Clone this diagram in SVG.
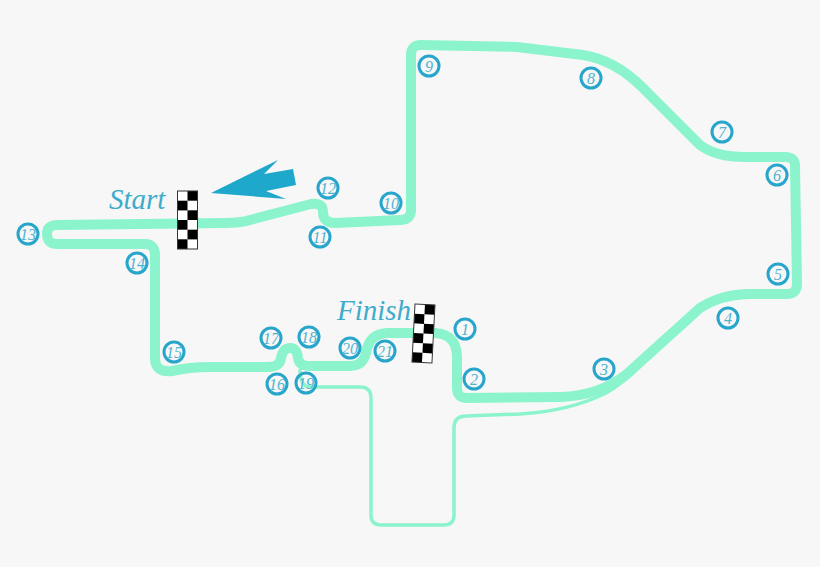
<svg xmlns="http://www.w3.org/2000/svg" width="820" height="567" viewBox="0 0 820 567">
<defs>
<style>
.track{fill:none;stroke:#8cf4cd;stroke-linecap:round;stroke-linejoin:round}
.main{stroke-width:10}
.pit{stroke-width:3.500}
.m circle{fill:none;stroke:#27a5cb;stroke-width:3}
.m text{font-family:"Liberation Serif",serif;font-style:italic;font-size:16px;fill:#4fb3cf;text-anchor:middle}
.lbl{font-family:"Liberation Serif",serif;font-style:italic;font-size:29px;fill:#3daccb}
.w{fill:#fff}.k{fill:#000}
</style>
<g id="flagcells">
<rect class="w" x="0" y="0" width="20" height="58"/>
<rect class="k" x="10" y="0" width="10" height="9.700"/><rect class="k" x="0" y="9.700" width="10" height="9.700"/>
<rect class="k" x="10" y="19.300" width="10" height="9.700"/><rect class="k" x="0" y="29" width="10" height="9.700"/>
<rect class="k" x="10" y="38.700" width="10" height="9.700"/><rect class="k" x="0" y="48.300" width="10" height="9.700"/>
<rect x="0" y="0" width="20" height="58" fill="none" stroke="#333" stroke-width="1"/>
</g>
</defs>
<rect width="820" height="567" fill="#f7f7f7"/>
<g id="connectors">
<path class="track pit" d="M300 370 Q300 387 310 387 L360 387 Q371 387 371 398 L371 515 Q371 525 381 525 L444 525 Q454 525 454 515 L454 428 Q454 416 466 416 L520 414 Q570 411 606 393 Q625 382 640 366"/>
<path class="track main" d="M457 358 L457 388 Q457 398 467 398 L560 397 Q600 396 628 373 L700 308 Q720 295 747 294 L787 294 Q797 294 797 284 L795 166 Q795 157 785 157 L745 157 Q716 157 700 145 L643 88 Q615 60 583 55 L517 47 L421 45 Q411 45 411 55 L411 210 Q411 220 400 220 L335 223 Q323 223 323 212 Q323 202 311 204 L250 220 Q240 223 225 223 L57 225 Q47 225 47 234 Q47 244 57 244 L145 244 Q155 244 155 255 L155 358 Q155 373 172 371 Q190 367 210 367 L268 367 Q280 367 281 358 Q283 348 290 348 Q297 348 298 358 Q299 366 310 366 L350 366 Q363 366 366 353 Q369 334 387 333 L435 333 Q457 334 457 358"/>
</g>
<g id="start-arrow"><path d="M211 193 L278 160 L264 174 L293 169 L296 185 L266 191 L286 199 Z" fill="#1ea8cc"/></g>
<g id="start"><text class="lbl" x="109" y="209" font-size="30">Start</text><use href="#flagcells" transform="translate(177.500 191)"/></g>
<g id="finish"><text class="lbl" x="337" y="320">Finish</text><use href="#flagcells" transform="translate(415 304) rotate(3)"/></g>
<g class="m" id="n1"><circle cx="465" cy="329" r="10"/><text x="465" y="335">1</text></g>
<g class="m" id="n2"><circle cx="474" cy="379" r="10"/><text x="474" y="385">2</text></g>
<g class="m" id="n3"><circle cx="604" cy="369" r="10"/><text x="604" y="375">3</text></g>
<g class="m" id="n4"><circle cx="728" cy="318" r="10"/><text x="728" y="324">4</text></g>
<g class="m" id="n5"><circle cx="778" cy="274" r="10"/><text x="778" y="280">5</text></g>
<g class="m" id="n6"><circle cx="777" cy="175" r="10"/><text x="777" y="181">6</text></g>
<g class="m" id="n7"><circle cx="722" cy="132" r="10"/><text x="722" y="138">7</text></g>
<g class="m" id="n8"><circle cx="591" cy="78" r="10"/><text x="591" y="84">8</text></g>
<g class="m" id="n9"><circle cx="429" cy="66" r="10"/><text x="429" y="72">9</text></g>
<g class="m" id="n10"><circle cx="391" cy="203" r="10"/><text x="391" y="209">10</text></g>
<g class="m" id="n11"><circle cx="320" cy="237" r="10"/><text x="320" y="243">11</text></g>
<g class="m" id="n12"><circle cx="328" cy="188" r="10"/><text x="328" y="194">12</text></g>
<g class="m" id="n13"><circle cx="28" cy="234" r="10"/><text x="28" y="240">13</text></g>
<g class="m" id="n14"><circle cx="137" cy="263" r="10"/><text x="137" y="269">14</text></g>
<g class="m" id="n15"><circle cx="174" cy="352" r="10"/><text x="174" y="358">15</text></g>
<g class="m" id="n16"><circle cx="277" cy="384" r="10"/><text x="277" y="390">16</text></g>
<g class="m" id="n17"><circle cx="271" cy="338" r="10"/><text x="271" y="344">17</text></g>
<g class="m" id="n18"><circle cx="309" cy="337" r="10"/><text x="309" y="343">18</text></g>
<g class="m" id="n19"><circle cx="306" cy="383" r="10"/><text x="306" y="389">19</text></g>
<g class="m" id="n20"><circle cx="350" cy="348" r="10"/><text x="350" y="354">20</text></g>
<g class="m" id="n21"><circle cx="385" cy="351" r="10"/><text x="385" y="357">21</text></g>
</svg>
